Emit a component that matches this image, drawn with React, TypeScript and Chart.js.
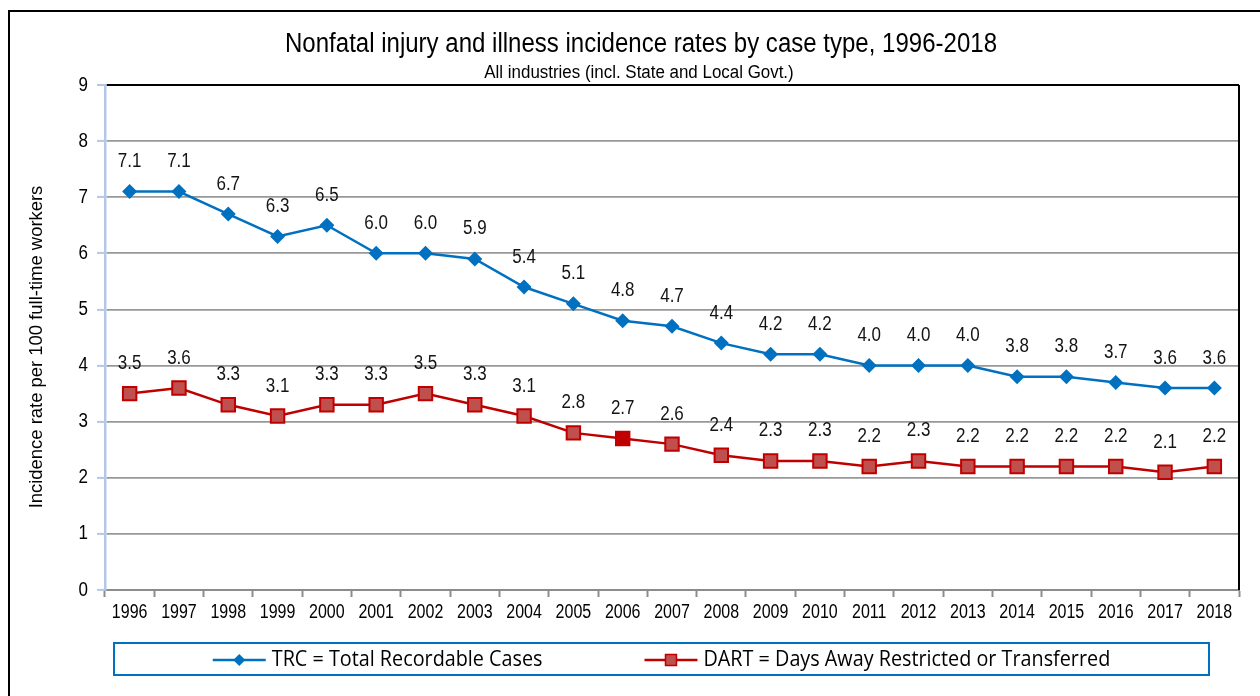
import React, { useEffect, useRef } from "react";
import { Chart, registerables } from "chart.js";

Chart.register(...registerables);

const years = ["1996","1997","1998","1999","2000","2001","2002","2003","2004","2005","2006","2007","2008","2009","2010","2011","2012","2013","2014","2015","2016","2017","2018"];
const trc = [7.1,7.1,6.7,6.3,6.5,6.0,6.0,5.9,5.4,5.1,4.8,4.7,4.4,4.2,4.2,4.0,4.0,4.0,3.8,3.8,3.7,3.6,3.6];
const dart = [3.5,3.6,3.3,3.1,3.3,3.3,3.5,3.3,3.1,2.8,2.7,2.6,2.4,2.3,2.3,2.2,2.3,2.2,2.2,2.2,2.2,2.1,2.2];
const yTicks = [0,1,2,3,4,5,6,7,8,9];
const seriesNames = ["TRC = Total Recordable Cases", "DART = Days Away Restricted or Transferred"];
const titleText = "Nonfatal injury and illness incidence rates by case type, 1996-2018";
const subtitleText = "All industries (incl. State and Local Govt.)";
const yTitle = "Incidence rate per 100 full-time workers";
const highlightedYear = "2006";

const SANS = "'Liberation Sans', Arial, sans-serif";
const LEGEND_FONT = "'Open Sans', 'Noto Sans', sans-serif";
const BLUE = "#0070C0";
const RED = "#C00000";
const RED_FILL = "#C0504D";

function text(
  ctx: CanvasRenderingContext2D,
  s: string,
  x: number,
  y: number,
  size: number,
  sx: number,
  align: CanvasTextAlign,
  family = SANS,
  rot = 0
) {
  ctx.save();
  ctx.translate(x, y);
  if (rot) ctx.rotate(rot);
  ctx.scale(sx, 1);
  ctx.font = `${size}px ${family}`;
  ctx.textAlign = align;
  ctx.textBaseline = "middle";
  ctx.fillText(s, 0, 0);
  ctx.restore();
}

function drawDiamond(ctx: CanvasRenderingContext2D, x: number, y: number, r: number) {
  ctx.beginPath();
  ctx.moveTo(x, y - r);
  ctx.lineTo(x + r, y);
  ctx.lineTo(x, y + r);
  ctx.lineTo(x - r, y);
  ctx.closePath();
  ctx.fillStyle = BLUE;
  ctx.fill();
}

function drawSquare(ctx: CanvasRenderingContext2D, x: number, y: number, h: number) {
  ctx.fillStyle = RED_FILL;
  ctx.strokeStyle = RED;
  ctx.lineWidth = 1.5;
  ctx.fillRect(x - h, y - h, 2 * h, 2 * h);
  ctx.strokeRect(x - h, y - h, 2 * h, 2 * h);
}

const decorPlugin = {
  id: "decor",
  afterDraw(chart: any) {
    const ctx: CanvasRenderingContext2D = chart.ctx;
    const area = chart.chartArea;
    const xs = chart.scales.x;
    const ys = chart.scales.y;
    ctx.save();
    // outer frame (left & top edges visible)
    ctx.strokeStyle = "#000";
    ctx.lineWidth = 2;
    ctx.beginPath();
    ctx.moveTo(9, 800);
    ctx.lineTo(9, 11);
    ctx.lineTo(1300, 11);
    ctx.stroke();
    // plot area right border
    ctx.beginPath();
    ctx.moveTo(area.right, area.top);
    ctx.lineTo(area.right, area.bottom);
    ctx.stroke();

    ctx.fillStyle = "#000";
    // titles
    text(ctx, titleText, 641, 45, 27, 0.89, "center");
    text(ctx, subtitleText, 639, 73, 18, 0.94, "center");

    // y axis title
    text(ctx, yTitle, 37, 347, 19, 0.97, "center", SANS, -Math.PI / 2);

    // tick labels
    yTicks.forEach((v) => {
      text(ctx, String(v), ys.left + ys.width - 17, ys.getPixelForValue(v), 20, 0.85, "right");
    });
    years.forEach((lab, i) => {
      text(ctx, lab, xs.getPixelForValue(i), area.bottom + 22, 20, 0.8, "center");
    });

    // data labels
    ctx.fillStyle = "#141414";
    chart.data.datasets.forEach((ds: any, i: number) => {
      const meta = chart.getDatasetMeta(i);
      meta.data.forEach((pt: any, j: number) => {
        text(ctx, Number(ds.data[j]).toFixed(1), pt.x, pt.y - 30, 20, 0.85, "center");
      });
    });

    // legend
    const bx = 114, by = 643, bw = 1095, bh = 32;
    ctx.strokeStyle = BLUE;
    ctx.lineWidth = 2;
    ctx.strokeRect(bx, by, bw, bh);
    const lsize = 21.5, lsx = 0.92;
    ctx.font = `${lsize}px ${LEGEND_FONT}`;
    const w1 = ctx.measureText(seriesNames[0]).width * lsx;
    const w2 = ctx.measureText(seriesNames[1]).width * lsx;
    const mk = 53, gap = 6, between = 102;
    const total = mk + gap + w1 + between + mk + gap + w2;
    let x = bx + bw / 2 - total / 2;
    const cy = by + bh / 2 + 1;
    // item 1
    ctx.strokeStyle = BLUE;
    ctx.lineWidth = 2.5;
    ctx.beginPath();
    ctx.moveTo(x, cy);
    ctx.lineTo(x + mk, cy);
    ctx.stroke();
    drawDiamond(ctx, x + mk / 2, cy, 6);
    ctx.fillStyle = "#000";
    text(ctx, seriesNames[0], x + mk + gap, cy, lsize, lsx, "left", LEGEND_FONT);
    x += mk + gap + w1 + between;
    // item 2
    ctx.strokeStyle = RED;
    ctx.lineWidth = 2.5;
    ctx.beginPath();
    ctx.moveTo(x, cy);
    ctx.lineTo(x + mk, cy);
    ctx.stroke();
    drawSquare(ctx, x + mk / 2, cy, 5.5);
    ctx.fillStyle = "#000";
    text(ctx, seriesNames[1], x + mk + gap, cy, lsize, lsx, "left", LEGEND_FONT);
    ctx.restore();
  },
};

export default function App() {
  const ref = useRef<HTMLCanvasElement | null>(null);
  useEffect(() => {
    document.body.style.margin = "0";
    const canvas = ref.current!;
    const chart = new Chart(canvas, {
      type: "line",
      data: {
        labels: years,
        datasets: [
          {
            label: seriesNames[0],
            data: trc,
            borderColor: BLUE,
            backgroundColor: BLUE,
            borderWidth: 2.5,
            pointStyle: "rectRot",
            pointRadius: 7.5,
            pointBorderWidth: 0,
            pointBackgroundColor: BLUE,
            tension: 0,
          },
          {
            label: seriesNames[1],
            data: dart,
            borderColor: RED,
            backgroundColor: RED_FILL,
            borderWidth: 2.5,
            pointStyle: "rect",
            pointRadius: 9.5,
            pointBorderWidth: 2,
            pointBorderColor: RED,
            pointBackgroundColor: (c: any) => (years[c.dataIndex] === highlightedYear ? RED : RED_FILL),
            tension: 0,
          },
        ],
      },
      options: {
        animation: false,
        responsive: false,
        devicePixelRatio: 1,
        layout: { padding: { top: 85, right: 21, left: 0, bottom: 0 } },
        plugins: {
          legend: { display: false },
          title: { display: false },
          tooltip: { enabled: false },
        },
        scales: {
          x: {
            type: "category",
            offset: true,
            afterFit: (s: any) => { s.height = 106; },
            grid: {
              offset: true,
              drawOnChartArea: false,
              drawTicks: true,
              tickLength: 7,
              tickColor: "#8c8c8c",
              tickWidth: 2,
            },
            border: { color: "#8c8c8c", width: 2 },
            ticks: { display: false, autoSkip: false },
          },
          y: {
            min: 0,
            max: 9,
            afterFit: (s: any) => { s.width = 105; },
            ticks: { stepSize: 1, display: false },
            grid: {
              color: (c: any) => (c.tick && c.tick.value === 9 ? "#000" : "#989898"),
              lineWidth: (c: any) => (c.tick && c.tick.value === 9 ? 2 : 1.8),
              tickLength: 8,
              tickColor: "#b4c7e7",
              tickWidth: 2,
            },
            border: { color: "#b4c7e7", width: 2.5 },
          },
        },
      },
      plugins: [decorPlugin],
    });
    return () => chart.destroy();
  }, []);
  return (
    <div style={{ width: 1260, height: 696, background: "#fff" }}>
      <canvas ref={ref} width={1260} height={696} style={{ display: "block", width: 1260, height: 696 }} />
    </div>
  );
}
